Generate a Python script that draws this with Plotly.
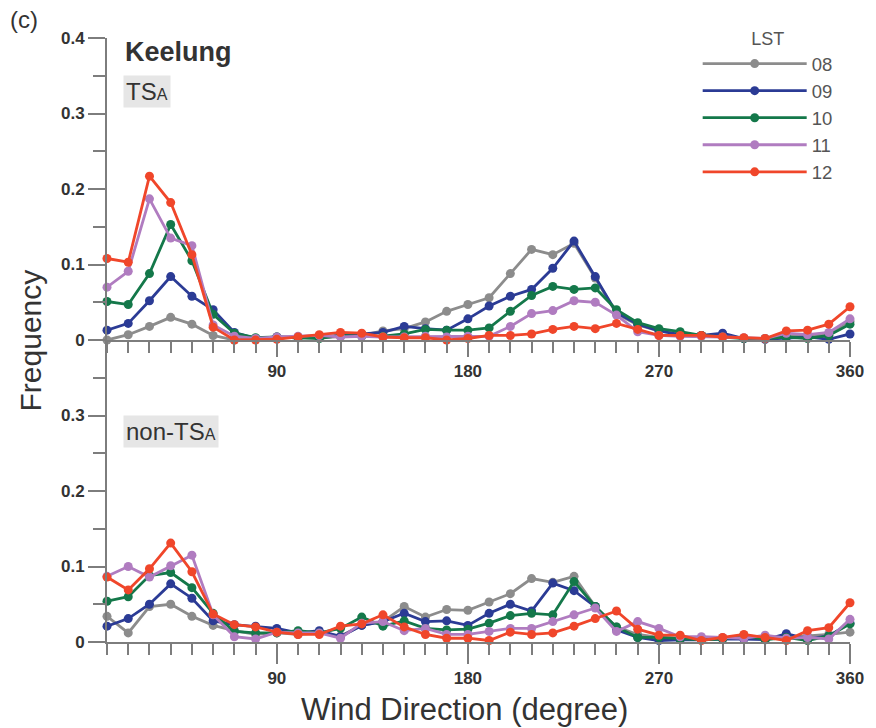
import plotly.graph_objects as go

# Wind direction bins (degrees)
directions = list(range(10, 361, 10))
hours = ["08", "09", "10", "11", "12"]
colors = ["#8c8c8c", "#2b3b95", "#14784a", "#b07cc0", "#f0462a"]

# Keelung, TSA days
tsa_08 = [0.000, 0.007, 0.018, 0.030, 0.021, 0.006, 0.000, 0.002, 0.003, 0.004, 0.003, 0.005,
          0.006, 0.012, 0.015, 0.024, 0.038, 0.047, 0.056, 0.088, 0.120, 0.113, 0.128, 0.082,
          0.035, 0.020, 0.012, 0.008, 0.006, 0.006, 0.002, 0.001, 0.005, 0.006, 0.006, 0.025]
tsa_09 = [0.013, 0.022, 0.052, 0.084, 0.058, 0.040, 0.010, 0.002, 0.004, 0.003, 0.004, 0.006,
          0.008, 0.010, 0.018, 0.015, 0.013, 0.028, 0.045, 0.058, 0.067, 0.095, 0.131, 0.084,
          0.036, 0.021, 0.012, 0.007, 0.006, 0.009, 0.002, 0.001, 0.003, 0.004, 0.001, 0.008]
tsa_10 = [0.051, 0.047, 0.088, 0.153, 0.105, 0.034, 0.009, 0.003, 0.004, 0.003, 0.002, 0.006,
          0.005, 0.005, 0.008, 0.014, 0.013, 0.013, 0.016, 0.038, 0.059, 0.071, 0.067, 0.069,
          0.040, 0.023, 0.015, 0.011, 0.006, 0.004, 0.002, 0.002, 0.004, 0.002, 0.006, 0.021]
tsa_11 = [0.070, 0.091, 0.187, 0.135, 0.125, 0.020, 0.005, 0.002, 0.004, 0.005, 0.006, 0.004,
          0.005, 0.004, 0.004, 0.005, 0.004, 0.005, 0.005, 0.018, 0.035, 0.039, 0.052, 0.050,
          0.033, 0.011, 0.006, 0.005, 0.005, 0.004, 0.003, 0.002, 0.009, 0.007, 0.010, 0.028]
tsa_12 = [0.108, 0.103, 0.217, 0.182, 0.113, 0.017, 0.000, 0.000, 0.001, 0.004, 0.007, 0.010,
          0.009, 0.004, 0.003, 0.003, 0.000, 0.002, 0.006, 0.006, 0.008, 0.014, 0.018, 0.015,
          0.022, 0.014, 0.006, 0.006, 0.006, 0.004, 0.003, 0.002, 0.012, 0.013, 0.021, 0.044]

# Keelung, non-TSA days
non_08 = [0.034, 0.012, 0.047, 0.050, 0.034, 0.022, 0.015, 0.010, 0.012, 0.010, 0.012, 0.008,
          0.022, 0.027, 0.047, 0.033, 0.043, 0.042, 0.053, 0.064, 0.084, 0.079, 0.087, 0.047,
          0.020, 0.010, 0.006, 0.005, 0.004, 0.005, 0.006, 0.005, 0.006, 0.008, 0.010, 0.013]
non_09 = [0.021, 0.031, 0.050, 0.077, 0.058, 0.028, 0.023, 0.021, 0.018, 0.012, 0.015, 0.007,
          0.022, 0.027, 0.038, 0.027, 0.028, 0.022, 0.038, 0.050, 0.041, 0.078, 0.068, 0.047,
          0.016, 0.006, 0.002, 0.003, 0.003, 0.004, 0.004, 0.003, 0.011, 0.004, 0.008, 0.025]
non_10 = [0.054, 0.060, 0.088, 0.092, 0.072, 0.038, 0.014, 0.012, 0.012, 0.015, 0.012, 0.018,
          0.033, 0.021, 0.028, 0.018, 0.016, 0.017, 0.025, 0.035, 0.038, 0.036, 0.080, 0.047,
          0.020, 0.006, 0.006, 0.004, 0.003, 0.004, 0.009, 0.003, 0.006, 0.002, 0.008, 0.024]
non_11 = [0.087, 0.100, 0.086, 0.101, 0.115, 0.036, 0.007, 0.004, 0.013, 0.012, 0.012, 0.005,
          0.025, 0.027, 0.015, 0.018, 0.010, 0.010, 0.014, 0.018, 0.018, 0.027, 0.036, 0.045,
          0.014, 0.027, 0.018, 0.007, 0.007, 0.006, 0.005, 0.009, 0.005, 0.006, 0.004, 0.030]
non_12 = [0.086, 0.069, 0.097, 0.131, 0.093, 0.037, 0.023, 0.020, 0.013, 0.010, 0.010, 0.021,
          0.024, 0.036, 0.020, 0.010, 0.005, 0.005, 0.002, 0.013, 0.010, 0.012, 0.021, 0.031,
          0.041, 0.017, 0.009, 0.009, 0.002, 0.006, 0.010, 0.006, 0.002, 0.015, 0.019, 0.052]

tsa_series = [tsa_08, tsa_09, tsa_10, tsa_11, tsa_12]
non_series = [non_08, non_09, non_10, non_11, non_12]

x_major = [90, 180, 270, 360]
y_top_ticks = [0, 0.1, 0.2, 0.3, 0.4]
y_top_labels = ["0", "0.1", "0.2", "0.3", "0.4"]
y_bot_ticks = [0, 0.1, 0.2, 0.3]
y_bot_labels = ["0", "0.1", "0.2", "0.3"]
y_minor = [0.05, 0.15, 0.25, 0.35]

FONT = "Liberation Sans"
AX = "#7d7d7d"
TXT = "#333333"

fig = go.Figure()
for h, c, vals in zip(hours, colors, tsa_series):
    fig.add_trace(go.Scatter(x=directions, y=vals, mode="lines+markers", name=h,
                             line=dict(color=c, width=2.8), marker=dict(color=c, size=9),
                             xaxis="x", yaxis="y", cliponaxis=False))
for h, c, vals in zip(hours, colors, non_series):
    fig.add_trace(go.Scatter(x=directions, y=vals, mode="lines+markers", name=h,
                             line=dict(color=c, width=2.8), marker=dict(color=c, size=9),
                             xaxis="x2", yaxis="y2", cliponaxis=False, showlegend=False))

tickfont = dict(family=FONT, size=17, color=TXT, weight="bold")


def xaxis_cfg(major_len):
    return dict(range=[10, 360], showline=True, linecolor=AX, linewidth=2, ticks="outside",
                tickmode="array", tickvals=x_major, ticklen=major_len, tickwidth=2, tickcolor=AX,
                minor=dict(tickmode="array", tickvals=directions, ticklen=11, tickwidth=2,
                           tickcolor=AX, ticks="outside"),
                showgrid=False, zeroline=False, tickfont=tickfont)


ycommon = dict(range=[0, 0.4], showline=True, linecolor=AX, linewidth=2, ticks="outside",
               tickmode="array", ticklen=17, tickwidth=2, tickcolor=AX,
               minor=dict(tickmode="array", tickvals=y_minor, ticklen=12, tickwidth=2,
                          tickcolor=AX, ticks="outside"),
               showgrid=False, zeroline=False, tickfont=tickfont)

fig.update_layout(
    width=876, height=728,
    margin=dict(l=107, r=21, t=38, b=86),
    paper_bgcolor="white", plot_bgcolor="white",
    font=dict(family=FONT, color=TXT),
    xaxis=dict(domain=[0, 1], anchor="y", **xaxis_cfg(15)),
    yaxis=dict(domain=[0.5, 1], anchor="x", tickvals=y_top_ticks, ticktext=y_top_labels, **ycommon),
    xaxis2=dict(domain=[0, 1], anchor="y2", **xaxis_cfg(20)),
    yaxis2=dict(domain=[0, 0.5], anchor="x2", tickvals=y_bot_ticks, ticktext=y_bot_labels, **ycommon),
    showlegend=True,
    legend=dict(x=0.795, y=1.027, xanchor="left", yanchor="top", itemwidth=104,
                tracegroupgap=0, bgcolor="rgba(255,255,255,0)", borderwidth=0,
                font=dict(family=FONT, size=18.5, color="#555555"),
                title=dict(text="LST", side="top center", font=dict(family=FONT, size=18, color="#555555"))),
)

ann = [
    dict(text="(c)", x=-0.133, y=1.03, xanchor="left", yanchor="middle",
         font=dict(size=24, color=TXT)),
    dict(text="<b>Keelung</b>", x=0.021, y=0.976, xanchor="left", yanchor="middle",
         font=dict(size=27, color=TXT)),
    dict(text="TS<span style='font-size:16px'>A</span>", x=0.021, y=0.912, xanchor="left",
         yanchor="middle", bgcolor="#e6e6e6", borderpad=2, font=dict(size=24, color=TXT)),
    dict(text="non-TS<span style='font-size:16px'>A</span>", x=0.021, y=0.349, xanchor="left",
         yanchor="middle", bgcolor="#e6e6e6", borderpad=2, font=dict(size=24, color=TXT)),
    dict(text="Frequency", x=-0.103, y=0.5, textangle=-90, xanchor="center", yanchor="middle",
         font=dict(size=30, color=TXT)),
    dict(text="Wind Direction (degree)", x=0.481, y=-0.112, xanchor="center", yanchor="middle",
         font=dict(size=31, color=TXT)),
]
for a in ann:
    fig.add_annotation(xref="paper", yref="paper", showarrow=False, **a)

fig.write_html("out.html")
